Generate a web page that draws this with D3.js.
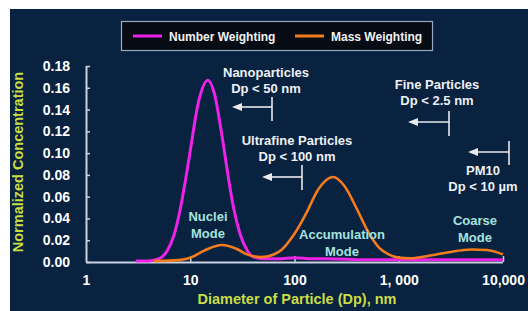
<!DOCTYPE html>
<html><head><meta charset="utf-8">
<script src="https://cdn.jsdelivr.net/npm/d3@7"></script>
<style>
html,body{margin:0;padding:0;background:#fff;}
svg{display:block;}
text{font-family:"Liberation Sans",Arial,sans-serif;font-weight:bold;}
</style></head>
<body>
<script>
// ---- data ----
const xTickValues = [1, 10, 100, 1000, 10000];
const xTickLabels = ["1", "10", "100", "1, 000", "10,000"];
const yTickValues = [0, 0.02, 0.04, 0.06, 0.08, 0.10, 0.12, 0.14, 0.16, 0.18];
const seriesNames = ["Number Weighting", "Mass Weighting"];
const numDiam = [3, 4, 5, 6, 7, 8, 9, 10, 12, 14.8, 17, 20, 23, 26, 30, 35, 40, 50, 70, 100, 150, 200, 500, 1000, 3000, 10000];
const numVal  = [0.001, 0.001, 0.003, 0.010, 0.025, 0.048, 0.075, 0.102, 0.147, 0.167, 0.155, 0.118, 0.080, 0.050, 0.026, 0.011, 0.005, 0.003, 0.003, 0.004, 0.003, 0.003, 0.002, 0.002, 0.002, 0.002];
const massDiam = [4.5, 7, 10, 14, 20, 28, 35, 48, 70, 100, 130, 170, 234, 300, 400, 500, 650, 800, 1000, 1300, 2000, 3000, 5000, 7000, 10000];
const massVal  = [0.001, 0.0015, 0.004, 0.011, 0.0156, 0.012, 0.007, 0.0045, 0.009, 0.026, 0.045, 0.067, 0.078, 0.070, 0.048, 0.029, 0.013, 0.007, 0.004, 0.0035, 0.006, 0.009, 0.0115, 0.011, 0.007];
const sizeClasses = [
  {title: "Nanoparticles", sub: "Dp < 50 nm", limit: 50},
  {title: "Ultrafine Particles", sub: "Dp < 100 nm", limit: 100},
  {title: "Fine Particles", sub: "Dp < 2.5 nm", limit: 2500},
  {title: "PM10", sub: "Dp < 10 \u00b5m", limit: 10000}
];
const modeNames = [["Nuclei", "Mode"], ["Accumulation", "Mode"], ["Coarse", "Mode"]];

// ---- layout ----
const W = 528, H = 311;
const svg = d3.select("body").append("svg").attr("width", W).attr("height", H);
svg.append("rect").attr("width", W).attr("height", H).attr("fill", "#fff");
svg.append("rect").attr("x", 10).attr("y", 9).attr("width", W - 10).attr("height", H - 9).attr("fill", "#082240");

const x = d3.scaleLog().domain([1, 10000]).range([86, 503]);
const y = d3.scaleLinear().domain([0, 0.18]).range([262, 66]);
const axisCol = "#c9d2e2";

// y axis
const yAxis = svg.append("g").attr("transform", "translate(86,0)")
  .call(d3.axisLeft(y).tickValues(yTickValues).tickSize(-4).tickPadding(16).tickFormat(d3.format(".2f")));
yAxis.select(".domain").attr("stroke", axisCol).attr("stroke-width", 2).attr("d", `M0.5,${y(0.18)}V${y(0)}`);
yAxis.selectAll(".tick line").attr("stroke", axisCol).attr("stroke-width", 1.5);
yAxis.selectAll(".tick text").attr("fill", "#fff").attr("font-size", 14).attr("font-weight", "bold")
  .attr("font-family", "Liberation Sans, Arial, sans-serif");

// x axis
const xAxis = svg.append("g").attr("transform", "translate(0,262)")
  .call(d3.axisBottom(x).tickValues(xTickValues).tickSize(-6).tickPadding(13)
    .tickFormat((d, i) => xTickLabels[i]));
xAxis.select(".domain").attr("stroke", axisCol).attr("stroke-width", 2).attr("d", `M${x(1)},0.5H${x(10000)}`);
xAxis.selectAll(".tick line").attr("stroke", axisCol).attr("stroke-width", 1.5);
xAxis.selectAll(".tick").filter(d => d === 1).select("line").remove();
xAxis.selectAll(".tick text").attr("fill", "#fff").attr("font-size", 14).attr("font-weight", "bold")
  .attr("font-family", "Liberation Sans, Arial, sans-serif");

// axis titles
svg.append("text").attr("x", 297).attr("y", 304).attr("text-anchor", "middle")
  .attr("fill", "#cbdc45").attr("font-size", 14.5).text("Diameter of Particle (Dp), nm");
svg.append("text").attr("transform", "translate(23,162) rotate(-90)").attr("text-anchor", "middle")
  .attr("fill", "#cbdc45").attr("font-size", 14.5).text("Normalized Concentration");

// curves
const line = d3.line().x(d => x(d[0])).y(d => y(d[1])).curve(d3.curveMonotoneX);
const massPts = massDiam.map((d, i) => [d, massVal[i]]);
const numPts = numDiam.map((d, i) => [d, numVal[i]]);
svg.append("path").attr("d", line(numPts)).attr("fill", "none").attr("stroke", "#ec22e6").attr("stroke-width", 3);
svg.append("path").attr("d", line(massPts)).attr("fill", "none").attr("stroke", "#f57c1c").attr("stroke-width", 2.6);

// mode labels
const modePos = [[208, 221], [342, 239], [475, 225]];
modeNames.forEach((m, i) => {
  m.forEach((t, j) => {
    svg.append("text").attr("x", modePos[i][0]).attr("y", modePos[i][1] + j * 17)
      .attr("text-anchor", "middle").attr("fill", "#a6e2df").attr("font-size", 13).text(t);
  });
});

// size class annotations
const annPos = [
  {tx: 266, ty: 77, ay: 107, tip: 232, barTop: 97, barBot: 121},
  {tx: 297, ty: 145, ay: 177, tip: 262, barTop: 165, barBot: 190},
  {tx: 437, ty: 89, ay: 122, tip: 408, barTop: 111, barBot: 136},
  {tx: 483, ty: 175, ay: 152, tip: 468, barTop: 141, barBot: 165}
];
const barX = [272, 302, 449, 509];
sizeClasses.forEach((c, i) => {
  const p = annPos[i];
  svg.append("text").attr("x", p.tx).attr("y", p.ty).attr("text-anchor", "middle")
    .attr("fill", "#eef0f4").attr("font-size", 13).text(c.title);
  svg.append("text").attr("x", p.tx).attr("y", p.ty + 16).attr("text-anchor", "middle")
    .attr("fill", "#eef0f4").attr("font-size", 13).text(c.sub);
  const bx = barX[i];
  svg.append("line").attr("x1", bx).attr("x2", bx).attr("y1", p.barTop).attr("y2", p.barBot)
    .attr("stroke", "#e8eaee").attr("stroke-width", 1.6);
  svg.append("line").attr("x1", p.tip + 8).attr("x2", bx).attr("y1", p.ay).attr("y2", p.ay)
    .attr("stroke", "#e8eaee").attr("stroke-width", 1.6);
  svg.append("path").attr("d", `M${p.tip},${p.ay}L${p.tip + 10},${p.ay - 4}L${p.tip + 10},${p.ay + 4}Z`)
    .attr("fill", "#e8eaee");
});

// legend
const lg = svg.append("g");
lg.append("rect").attr("x", 121.5).attr("y", 21.5).attr("width", 311).attr("height", 29)
  .attr("fill", "#060b14").attr("stroke", "#9aa9bf").attr("stroke-width", 1.2);
const legCols = ["#ec22e6", "#f57c1c"];
const legX = [133, 295];
seriesNames.forEach((s, i) => {
  lg.append("line").attr("x1", legX[i]).attr("x2", legX[i] + 29).attr("y1", 36).attr("y2", 36)
    .attr("stroke", legCols[i]).attr("stroke-width", 3);
  lg.append("text").attr("x", legX[i] + 36).attr("y", 40.5).attr("fill", "#f2f2f2")
    .attr("font-size", 12).text(s);
});
</script>
</body></html>
